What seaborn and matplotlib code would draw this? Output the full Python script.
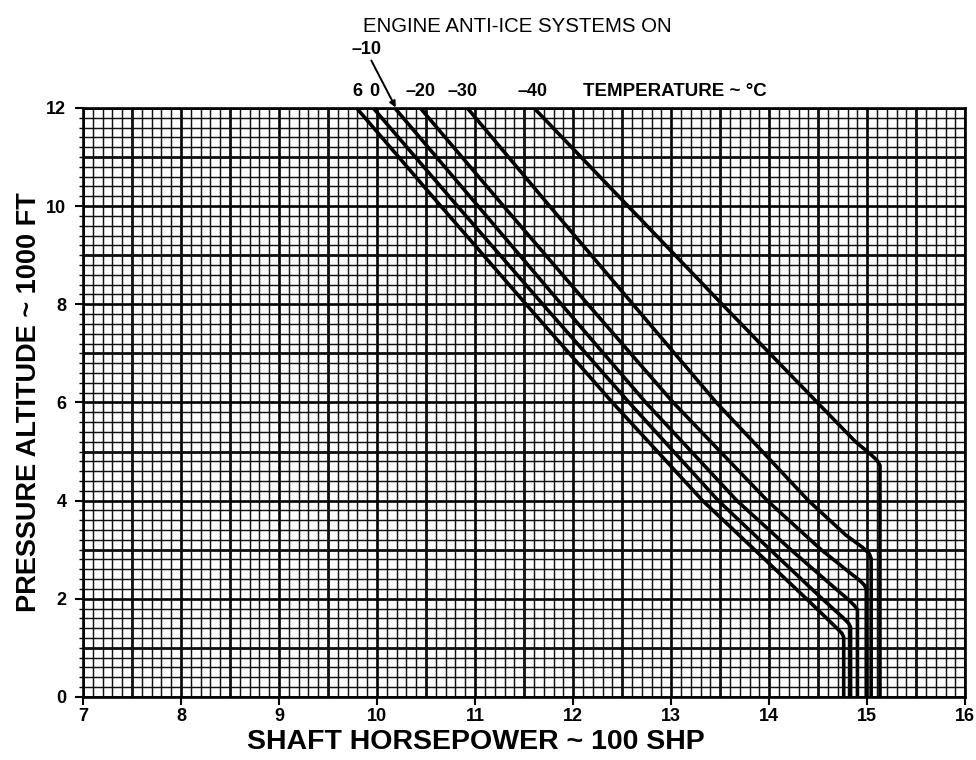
import matplotlib
matplotlib.use("Agg")
import matplotlib.pyplot as plt
import numpy as np
import pandas as pd
import seaborn as sns
from matplotlib.ticker import MultipleLocator

# ---- data ----
temps = ["6", "0", "-10", "-20", "-30", "-40"]
alt_p6 = [12, 10, 8, 6, 4, 2, 1.42, 1.30, 1.22, 0]
shp_p6 = [9.79, 10.65, 11.52, 12.40, 13.32, 14.38, 14.68, 14.74, 14.76, 14.76]
alt_0 = [12, 10, 8, 6, 4, 2, 1.62, 1.50, 1.42, 0]
shp_0 = [9.96, 10.82, 11.69, 12.57, 13.48, 14.54, 14.75, 14.81, 14.83, 14.83]
alt_m10 = [12, 10, 8, 6, 4, 3, 2.2, 1.98, 1.86, 1.78, 0]
shp_m10 = [10.18, 11.03, 11.88, 12.74, 13.67, 14.22, 14.68, 14.81, 14.87, 14.90, 14.90]
alt_m20 = [12, 10, 8, 6, 4, 3, 2.55, 2.38, 2.28, 2.20, 0]
shp_m20 = [10.44, 11.29, 12.15, 13.02, 13.98, 14.53, 14.81, 14.92, 14.97, 14.99, 14.99]
alt_m30 = [12, 10, 8, 6, 4, 3.3, 3.05, 2.92, 2.82, 0]
shp_m30 = [10.92, 11.76, 12.61, 13.46, 14.40, 14.78, 14.95, 15.02, 15.04, 15.04]
alt_m40 = [12, 10, 8, 6, 5.2, 4.95, 4.82, 4.72, 0]
shp_m40 = [11.60, 12.56, 13.52, 14.49, 14.88, 15.03, 15.10, 15.13, 15.13]

x_ticks = [7, 8, 9, 10, 11, 12, 13, 14, 15, 16]
y_ticks = [0, 2, 4, 6, 8, 10, 12]

series = {
    "6": (shp_p6, alt_p6), "0": (shp_0, alt_0), "-10": (shp_m10, alt_m10),
    "-20": (shp_m20, alt_m20), "-30": (shp_m30, alt_m30), "-40": (shp_m40, alt_m40),
}
rows = []
for t in temps:
    xs, ys = series[t]
    for i, (x, y) in enumerate(zip(xs, ys)):
        rows.append({"temp": t, "order": i, "shp": x, "alt": y})
df = pd.DataFrame(rows)

sns.set_theme(style="white")
plt.rcParams['font.family'] = ['Liberation Sans', 'DejaVu Sans']
plt.rcParams['text.color'] = 'black'
plt.rcParams['axes.labelcolor'] = 'black'
plt.rcParams['xtick.color'] = 'black'
plt.rcParams['ytick.color'] = 'black'

fig = plt.figure(figsize=(9.76, 7.6), dpi=100)
ax = fig.add_axes([0.085, 0.083, 0.904, 0.775])

ax.set_xlim(7, 16)
ax.set_ylim(0, 12)
ax.xaxis.set_major_locator(MultipleLocator(1))
ax.xaxis.set_minor_locator(MultipleLocator(0.1))
ax.yaxis.set_major_locator(MultipleLocator(2))
ax.yaxis.set_minor_locator(MultipleLocator(0.2))

# graph-paper grid
ax.grid(which="minor", color="#111111", lw=1.05)
ax.grid(which="major", color="black", lw=1.9)
for xv in np.arange(7.5, 16, 1.0):
    ax.axvline(xv, color="black", lw=1.9, zorder=0.5)
for yv in np.arange(1, 12, 2):
    ax.axhline(yv, color="black", lw=1.9, zorder=0.5)
ax.set_axisbelow(True)

sns.lineplot(data=df, x="shp", y="alt", hue="temp", units="temp", estimator=None,
             sort=False, palette=["black"] * len(temps), lw=2.6, legend=False, ax=ax)

for s in ax.spines.values():
    s.set_color("black")
    s.set_linewidth(1.9)

ax.set_xticks(x_ticks)
ax.set_yticks(y_ticks)
ax.set_xticklabels([str(v) for v in x_ticks], fontsize=13, fontweight="bold")
ax.set_yticklabels([str(v) for v in y_ticks], fontsize=13, fontweight="bold")
ax.tick_params(axis="x", which="major", direction="out", length=6, width=1.5,
               color="black", bottom=True, pad=2)
ax.tick_params(axis="y", which="major", direction="out", length=6, width=1.5,
               color="black", left=True, pad=6)
ax.tick_params(axis="y", which="minor", direction="out", length=3, width=1.0,
               color="black", left=True)

ax.set_xlabel("SHAFT HORSEPOWER ~ 100 SHP", fontsize=20.5, fontweight="bold")
ax.xaxis.set_label_coords((476 - 83) / 882, -(729 - 697) / 589)
ax.set_ylabel("PRESSURE ALTITUDE ~ 1000 FT", fontsize=19.5, fontweight="bold")
ax.yaxis.set_label_coords(-(83 - 42) / 882, 0.5)

# top annotations
fig.text(517 / 976, 1 - 27 / 760, "ENGINE ANTI-ICE SYSTEMS ON", ha="center", va="center",
         fontsize=14.7)
fig.text(367 / 976, 1 - 50 / 760, "–10", ha="center", va="center", fontsize=13, fontweight="bold")
ax.annotate("", xy=(397 / 976, 1 - 110 / 760), xytext=(370 / 976, 1 - 58 / 760),
            xycoords="figure fraction", textcoords="figure fraction",
            arrowprops=dict(arrowstyle="-|>", color="black", lw=1.4, mutation_scale=9))
label_pos = {"6": 357, "0": 374, "-20": 421, "-30": 463, "-40": 533}
for t, px in label_pos.items():
    fig.text(px / 976, 1 - 91 / 760, t.replace("-", "–"), ha="center", va="center",
             fontsize=13, fontweight="bold")
fig.text(675 / 976, 1 - 91 / 760, "TEMPERATURE ~ °C", ha="center", va="center",
         fontsize=13.5, fontweight="bold")

fig.savefig("out.png", dpi=100, facecolor="white")
